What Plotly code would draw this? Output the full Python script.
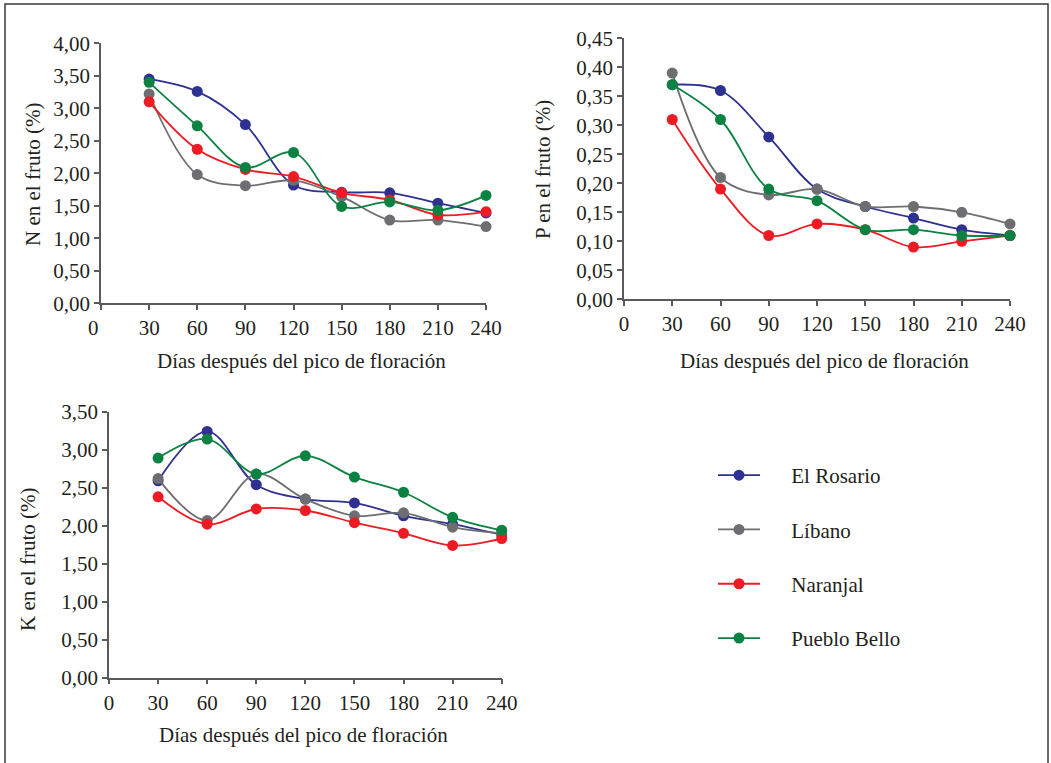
import plotly.graph_objects as go

dias = [30, 60, 90, 120, 150, 180, 210, 240]
series = ["El Rosario", "Líbano", "Naranjal", "Pueblo Bello"]
colors = ["#2e3192", "#6d6e71", "#ed1c24", "#0b8241"]

N_vals = {
    "El Rosario":   [3.45, 3.26, 2.75, 1.82, 1.71, 1.70, 1.54, 1.39],
    "Líbano":       [3.22, 1.98, 1.81, 1.89, 1.64, 1.28, 1.28, 1.18],
    "Naranjal":     [3.10, 2.37, 2.06, 1.95, 1.70, 1.59, 1.36, 1.41],
    "Pueblo Bello": [3.40, 2.73, 2.09, 2.32, 1.49, 1.56, 1.43, 1.66],
}
P_vals = {
    "El Rosario":   [0.37, 0.36, 0.28, 0.19, 0.16, 0.14, 0.12, 0.11],
    "Líbano":       [0.39, 0.21, 0.18, 0.19, 0.16, 0.16, 0.15, 0.13],
    "Naranjal":     [0.31, 0.19, 0.11, 0.13, 0.12, 0.09, 0.10, 0.11],
    "Pueblo Bello": [0.37, 0.31, 0.19, 0.17, 0.12, 0.12, 0.11, 0.11],
}
K_vals = {
    "El Rosario":   [2.59, 3.24, 2.54, 2.35, 2.30, 2.13, 2.02, 1.88],
    "Líbano":       [2.62, 2.07, 2.68, 2.35, 2.13, 2.17, 1.98, 1.90],
    "Naranjal":     [2.38, 2.02, 2.22, 2.20, 2.04, 1.90, 1.74, 1.83],
    "Pueblo Bello": [2.89, 3.14, 2.68, 2.92, 2.64, 2.44, 2.11, 1.94],
}

x_title = "Días después del pico de floración"
y_titles = ["N en el fruto (%)", "P en el fruto (%)", "K en el fruto (%)"]
x_ticks = [0, 30, 60, 90, 120, 150, 180, 210, 240]
x_ticktext = ["0", "30", "60", "90", "120", "150", "180", "210", "240"]

FONT = "Liberation Serif, Times New Roman, serif"
FS = 21
W, H = 1051, 763
AX_COLOR = "#5a5a5a"
TXT = "#231f20"
NBSP = "\u00a0"

fig = go.Figure()

panels = [
    (N_vals, "x", "y"),
    (P_vals, "x2", "y2"),
    (K_vals, "x3", "y3"),
]
for pi, (vals, xa, ya) in enumerate(panels):
    for si, name in enumerate(series):
        fig.add_trace(go.Scatter(
            x=dias, y=vals[name], name=NBSP * 5 + name, xaxis=xa, yaxis=ya,
            mode="lines+markers",
            line=dict(color=colors[si], width=1.8, shape="spline", smoothing=1.0),
            marker=dict(color=colors[si], size=11),
            cliponaxis=False,
            showlegend=(pi == 0),
            legendgroup=name,
            hoverinfo="skip",
        ))

def px_dom_x(a, b):
    return [a / W, b / W]

def px_dom_y(top, bottom):
    return [1 - bottom / H, 1 - top / H]

axis_common = dict(
    showline=True, linecolor=AX_COLOR, linewidth=1.5,
    ticks="outside", ticklen=5, tickwidth=1.5, tickcolor=AX_COLOR,
    showgrid=False, zeroline=False, automargin=False,
    tickfont=dict(family=FONT, size=FS, color=TXT),
)

# first panel: the "0" label sits slightly left of its tick in the original
x1_ticktext = [x_ticktext[0] + NBSP * 3] + x_ticktext[1:]

fig.update_layout(
    xaxis=dict(domain=px_dom_x(101, 486), range=[0, 240], tickvals=x_ticks, ticktext=x1_ticktext, anchor="y", **axis_common),
    yaxis=dict(domain=px_dom_y(43.3, 303.3), range=[0, 4], dtick=0.5, tick0=0, tickformat=".2f", anchor="x", **axis_common),
    xaxis2=dict(domain=px_dom_x(624, 1010), range=[0, 240], tickvals=x_ticks, ticktext=x_ticktext, anchor="y2", **axis_common),
    yaxis2=dict(domain=px_dom_y(38.3, 299.3), range=[0, 0.45], dtick=0.05, tick0=0, tickformat=".2f", anchor="x2", **axis_common),
    xaxis3=dict(domain=px_dom_x(109, 501.7), range=[0, 240], tickvals=x_ticks, ticktext=x_ticktext, anchor="y3", **axis_common),
    yaxis3=dict(domain=px_dom_y(411.7, 677.7), range=[0, 3.5], dtick=0.5, tick0=0, tickformat=".2f", anchor="x3", **axis_common),
)

annots = []
tfont = dict(family=FONT, size=FS, color=TXT)
for cx, cy in [(301, 361), (824, 361), (303, 735)]:
    annots.append(dict(text=x_title, x=cx / W, y=1 - cy / H, xref="paper", yref="paper",
                       showarrow=False, font=tfont, xanchor="center", yanchor="middle"))
for t, (cx, cy) in zip(y_titles, [(33, 175), (543, 170), (28, 560)]):
    annots.append(dict(text=t, x=cx / W, y=1 - cy / H, xref="paper", yref="paper",
                       showarrow=False, font=tfont, textangle=-90, xanchor="center", yanchor="middle"))

fig.update_layout(
    width=W, height=H,
    margin=dict(l=0, r=0, t=0, b=0),
    paper_bgcolor="white", plot_bgcolor="white",
    separators=",.",
    font=dict(family=FONT, size=FS, color=TXT),
    annotations=annots,
    hovermode=False,
    legend=dict(x=713 / W, y=1 - 455 / H, xanchor="left", yanchor="top",
                font=dict(family=FONT, size=FS, color=TXT),
                tracegroupgap=24, itemwidth=42, bgcolor="rgba(0,0,0,0)"),
    shapes=[dict(type="rect", xref="paper", yref="paper",
                 x0=5 / W, x1=1048 / W, y0=-0.02, y1=1 - 4 / H,
                 line=dict(color="#3a3a3a", width=1.5))],
)

fig.write_html(
    "out.html",
    config={"displayModeBar": False},
    post_script="document.body.style.margin='0px';document.documentElement.style.overflow='hidden';",
)
